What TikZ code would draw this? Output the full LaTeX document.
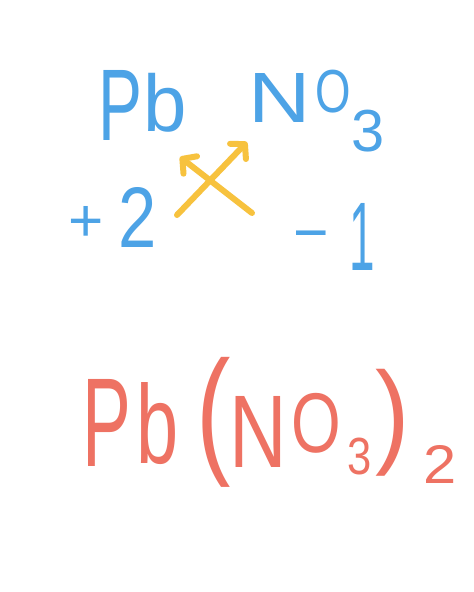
\documentclass[tikz,border=0pt]{standalone}
\usepackage{fontspec}
\setmainfont{Liberation Sans}
\usepackage{graphicx}
\usetikzlibrary{arrows.meta}
\definecolor{chemblue}{HTML}{4DA3E6}
\definecolor{chemred}{HTML}{EE7263}
\definecolor{chemyellow}{HTML}{F7C23E}
\newcommand\glyphbox[3]{\resizebox*{#1pt}{#2pt}{\kern-0.06em #3\kern-0.06em}}
\begin{document}
\begin{tikzpicture}[x=1pt,y=-1pt,
  g/.style={inner sep=0pt, outer sep=0pt},
  bl/.style={g,text=chemblue},
  rd/.style={g,text=chemred},
  cross/.style={draw=chemyellow, line width=6pt, line cap=round, line join=round,
    -{Straight Barb[length=10pt,width=22pt,line cap=round,line join=round]}}]
\useasboundingbox (0,0) rectangle (474,592);
\fill[white] (0,0) rectangle (474,592);
% blue formula parts
\node[bl] (bP) at (120,105) {\glyphbox{36}{70}{P}};
\node[bl] (bb) at (165,103) {\glyphbox{34}{59}{b}};
\node[bl] (bN) at (280,98) {\glyphbox{52}{49}{N}};
\node[bl] (bO) at (333,92) {\glyphbox{30}{43}{O}};
\node[bl] (b3) at (368,131) {\glyphbox{26}{42}{3}};
\node[bl] (bplus) at (86,224) {\glyphbox{28}{35}{+}};
\node[bl] (btwo) at (138,217) {\glyphbox{30}{60}{2}};
\node[bl,anchor=north] (bminus) at (311,231) {\scalebox{0.95}[1]{\fontsize{64}{64}\selectfont −}};
\node[bl] (bone) at (362,237) {\glyphbox{20}{67}{1}};
% yellow crossing arrows
\coordinate (c1s) at (177,215);
\coordinate (c1e) at (247,142);
\coordinate (c2s) at (252,213);
\coordinate (c2e) at (180,157);
\draw[cross] (c1s) -- (c1e);
\draw[cross] (c2s) -- (c2e);
% red formula
\node[rd] (rP) at (107,423) {\glyphbox{40}{87}{P}};
\node[rd] (rb) at (158,424) {\glyphbox{33}{82}{b}};
\node[rd] (rlp) at (214,422) {\glyphbox{22}{130}{(}};
\node[rd] (rN) at (258,432) {\glyphbox{48}{71}{N}};
\node[rd] (rO) at (316,423) {\glyphbox{42}{60}{O}};
\node[rd] (r3) at (360,456) {\glyphbox{19}{37}{3}};
\node[rd] (rrp) at (393,423) {\glyphbox{22}{107}{)}};
\node[rd] (r2) at (440,464) {\glyphbox{26}{38}{2}};
\end{tikzpicture}
\end{document}
